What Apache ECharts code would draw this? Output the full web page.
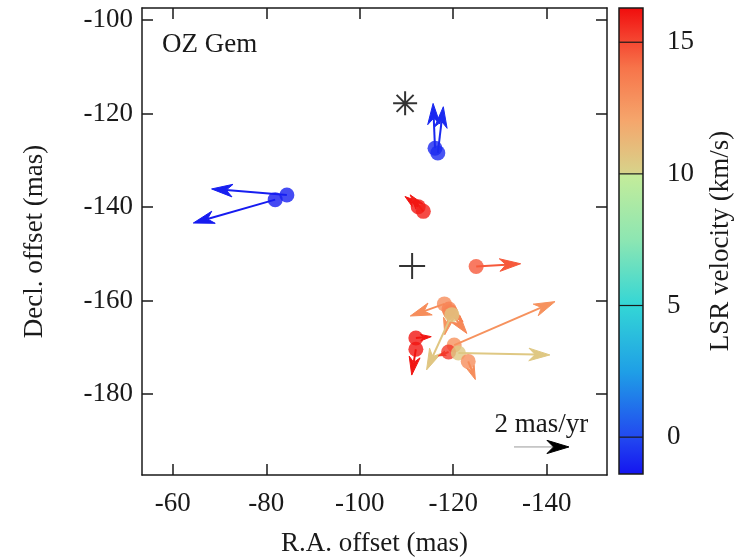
<!DOCTYPE html>
<html>
<head>
<meta charset="utf-8">
<script src="https://cdn.jsdelivr.net/npm/echarts@6/dist/echarts.min.js"></script>
<style>
html,body{margin:0;padding:0;background:#fff}
#chart{width:742px;height:558px}
</style>
</head>
<body>
<div id="chart"></div>
<script>
// maser spots: offsets (mas), proper motions (mas/yr), LSR velocity (km/s)
var raOff  = [-81.9, -84.4, -116.1, -116.7, -112.5, -113.6, -124.9, -118.1, -119.3, -119.5, -119.1, -119.7, -112.0, -112.0, -120.2, -119.0, -121.1, -123.2];
var decOff = [-138.4, -137.4, -127.4, -128.4, -139.9, -140.9, -152.7, -160.7, -162.3, -162.6, -161.8, -163.0, -168.0, -170.4, -169.5, -171.0, -171.2, -173.0];
var pmRa   = [2.98, 2.74, 0.07, -0.20, 0.48, 0.48, -1.62, 1.24, 0.19, -0.58, -0.51, 0.92, -0.56, 0.15, -3.67, 0.37, -3.33, -0.26];
var pmDec  = [-0.85, 0.22, 1.63, 1.68, 0.37, 0.60, 0.10, -0.44, -0.85, -0.75, -0.46, -2.01, 0.05, -0.94, 1.58, -0.14, -0.07, -0.66];
var vlsr   = [-1.2, -1.1, -0.9, -0.8, 16.1, 15.9, 14.6, 13.0, 12.8, 13.2, 13.5, 10.6, 16.1, 16.1, 12.8, 15.3, 10.5, 13.0];

var starPos  = [-109.7, -117.8];   // asterisk
var crossPos = [-111.2, -152.6];   // plus
var keyArrow = [-133.0, -191.3, -2, 0];
var keyLabel = '2 mas/yr';
var PM_SCALE = 5.88; // mas on the plot per mas/yr

var xTicks  = [-60, -80, -100, -120, -140];
var yTicks  = [-100, -120, -140, -160, -180];
var cbTicks = [0, 5, 10, 15];

// colour bar
var cbValues = [-1.4, 0, 2.5, 5, 7.5, 9.95, 10.05, 12, 14, 15.3, 16.3];
var cbColors = ['#1414f0', '#2248f0', '#1f9fe6', '#33d6d6', '#8de6b2', '#c4ec9a', '#d8d28a', '#f5a66c', '#f7744a', '#f43a2a', '#f00c0c'];

var FONT = '"Liberation Serif", "DejaVu Serif", serif';
var INK = '#1a1a1a';

function hexRgb(h){
  return [parseInt(h.substr(1,2),16), parseInt(h.substr(3,2),16), parseInt(h.substr(5,2),16)];
}
function colorAt(v){
  if (v <= cbValues[0]) return cbColors[0];
  for (var i = 1; i < cbValues.length; i++) {
    if (v <= cbValues[i]) {
      var t = (v - cbValues[i-1]) / (cbValues[i] - cbValues[i-1]);
      var a = hexRgb(cbColors[i-1]), b = hexRgb(cbColors[i]);
      return 'rgb(' + Math.round(a[0]+(b[0]-a[0])*t) + ',' + Math.round(a[1]+(b[1]-a[1])*t) + ',' + Math.round(a[2]+(b[2]-a[2])*t) + ')';
    }
  }
  return cbColors[cbColors.length-1];
}

function arrowShape(p0, p1, lineColor, headColor, lw, maxHead){
  var dx = p1[0]-p0[0], dy = p1[1]-p0[1];
  var len = Math.sqrt(dx*dx + dy*dy) || 1;
  var ux = dx/len, uy = dy/len, nx = -uy, ny = ux;
  var L = Math.min(maxHead, 0.7*len), W = 0.3*L;
  var bx = p1[0]-ux*L, by = p1[1]-uy*L;
  var mx = p1[0]-ux*L*0.7, my = p1[1]-uy*L*0.7;
  return {
    type: 'group',
    children: [
      {type: 'line', shape: {x1: p0[0], y1: p0[1], x2: mx, y2: my},
       style: {stroke: lineColor, lineWidth: lw}},
      {type: 'polygon', shape: {points: [p1, [bx+nx*W, by+ny*W], [mx, my], [bx-nx*W, by-ny*W]]},
       style: {fill: headColor, stroke: headColor, lineWidth: 1}}
    ]
  };
}

var spots = [];
for (var i = 0; i < raOff.length; i++) {
  spots.push([raOff[i], decOff[i], pmRa[i], pmDec[i], vlsr[i]]);
}

var axisLineStyle = {color: INK, width: 1.5};
var labelStyle = {fontFamily: FONT, fontSize: 27, color: INK};

var chart = echarts.init(document.getElementById('chart'));
chart.setOption({
  animation: false,
  backgroundColor: '#fff',
  title: {
    text: 'OZ Gem', left: 162, top: 31, padding: 0,
    textStyle: {fontFamily: FONT, fontSize: 27, fontWeight: 'normal', color: INK}
  },
  grid: [
    {left: 142, top: 8, width: 465, height: 467, outerBoundsMode: 'none', containLabel: false},
    {left: 619, top: 8, width: 24, height: 466, outerBoundsMode: 'none', containLabel: false}
  ],
  xAxis: [
    {
      gridIndex: 0, type: 'value', inverse: true, min: -152.9, max: -53.4, position: 'bottom',
      axisLine: {onZero: false, lineStyle: axisLineStyle},
      axisTick: {inside: true, length: 11, customValues: xTicks, lineStyle: axisLineStyle},
      axisLabel: Object.assign({customValues: xTicks, margin: 15}, labelStyle),
      splitLine: {show: false},
      name: 'R.A. offset (mas)', nameLocation: 'middle', nameGap: 55,
      nameTextStyle: labelStyle
    },
    {
      gridIndex: 0, type: 'value', inverse: true, min: -152.9, max: -53.4, position: 'top',
      axisLine: {onZero: false, lineStyle: axisLineStyle},
      axisTick: {inside: true, length: 11, customValues: xTicks, lineStyle: axisLineStyle},
      axisLabel: {show: false}, splitLine: {show: false}
    },
    {gridIndex: 1, type: 'value', min: 0, max: 1, show: false}
  ],
  yAxis: [
    {
      gridIndex: 0, type: 'value', min: -197.3, max: -97.4, position: 'left',
      axisLine: {onZero: false, lineStyle: axisLineStyle},
      axisTick: {inside: true, length: 11, customValues: yTicks, lineStyle: axisLineStyle},
      axisLabel: Object.assign({customValues: yTicks, margin: 9}, labelStyle),
      splitLine: {show: false},
      name: 'Decl. offset (mas)', nameLocation: 'middle', nameRotate: 90, nameGap: 94,
      nameTextStyle: labelStyle
    },
    {
      gridIndex: 0, type: 'value', min: -197.3, max: -97.4, position: 'right',
      axisLine: {onZero: false, lineStyle: axisLineStyle},
      axisTick: {inside: true, length: 11, customValues: yTicks, lineStyle: axisLineStyle},
      axisLabel: {show: false}, splitLine: {show: false}
    },
    {
      gridIndex: 1, type: 'value', min: cbValues[0], max: cbValues[cbValues.length-1], position: 'right',
      axisLine: {show: false},
      axisTick: {show: false},
      axisLabel: Object.assign({customValues: cbTicks, margin: 24}, labelStyle),
      splitLine: {show: false},
      name: 'LSR velocity (km/s)', nameLocation: 'middle', nameRotate: 90, nameGap: 64,
      nameTextStyle: labelStyle
    }
  ],
  series: [
    {
      type: 'custom', name: 'motions', xAxisIndex: 0, yAxisIndex: 0, data: spots, z: 2,
      renderItem: function(params, api){
        var x = api.value(0), y = api.value(1);
        var p0 = api.coord([x, y]);
        var p1 = api.coord([x + api.value(2)*PM_SCALE, y + api.value(3)*PM_SCALE]);
        var c = colorAt(api.value(4));
        return arrowShape(p0, p1, c, c, 2, 21);
      }
    },
    {
      type: 'scatter', name: 'spots', xAxisIndex: 0, yAxisIndex: 0, data: spots, z: 3,
      encode: {x: 0, y: 1}, symbolSize: 15,
      itemStyle: {color: function(p){ return colorAt(p.value[4]); }}
    },
    {
      type: 'scatter', name: 'star', xAxisIndex: 0, yAxisIndex: 0, data: [starPos], z: 4,
      symbol: 'path://M0,12L24,12M12,0L12,24M3.5,3.5L20.5,20.5M20.5,3.5L3.5,20.5', symbolSize: 24,
      itemStyle: {color: 'none', borderColor: '#000', borderWidth: 2}
    },
    {
      type: 'scatter', name: 'centre', xAxisIndex: 0, yAxisIndex: 0, data: [crossPos], z: 4,
      symbol: 'path://M0,12L24,12M12,0L12,24', symbolSize: 26,
      itemStyle: {color: 'none', borderColor: '#000', borderWidth: 2}
    },
    {
      type: 'custom', name: 'key', xAxisIndex: 0, yAxisIndex: 0, data: [keyArrow], z: 4,
      renderItem: function(params, api){
        var x = api.value(0), y = api.value(1);
        var p0 = api.coord([x, y]);
        var p1 = api.coord([x + api.value(2)*PM_SCALE, y + api.value(3)*PM_SCALE]);
        var g = arrowShape(p0, p1, '#999', '#000', 1, 22);
        g.children.push({
          type: 'text', x: (p0[0]+p1[0])/2, y: p0[1]-22,
          style: {text: keyLabel, fill: INK, font: '27px ' + FONT, align: 'center', verticalAlign: 'middle'}
        });
        return g;
      }
    },
    {
      type: 'custom', name: 'colorbar', xAxisIndex: 2, yAxisIndex: 2, z: 2,
      data: [[0, cbValues[0], 1, cbValues[cbValues.length-1]]],
      renderItem: function(params, api){
        var a = api.coord([api.value(0), api.value(1)]);
        var b = api.coord([api.value(2), api.value(3)]);
        var span = cbValues[cbValues.length-1] - cbValues[0];
        var stops = cbValues.map(function(v, k){
          return {offset: (v - cbValues[0]) / span, color: cbColors[k]};
        });
        var kids = [{
          type: 'rect',
          shape: {x: a[0], y: b[1], width: b[0]-a[0], height: a[1]-b[1]},
          style: {fill: new echarts.graphic.LinearGradient(0, 1, 0, 0, stops), stroke: INK, lineWidth: 1.5}
        }];
        cbTicks.forEach(function(t){
          var p = api.coord([0, t]);
          kids.push({type: 'line', shape: {x1: a[0], y1: p[1], x2: b[0], y2: p[1]},
                     style: {stroke: INK, lineWidth: 1.2}});
        });
        return {type: 'group', children: kids};
      }
    }
  ]
});
</script>
</body>
</html>
